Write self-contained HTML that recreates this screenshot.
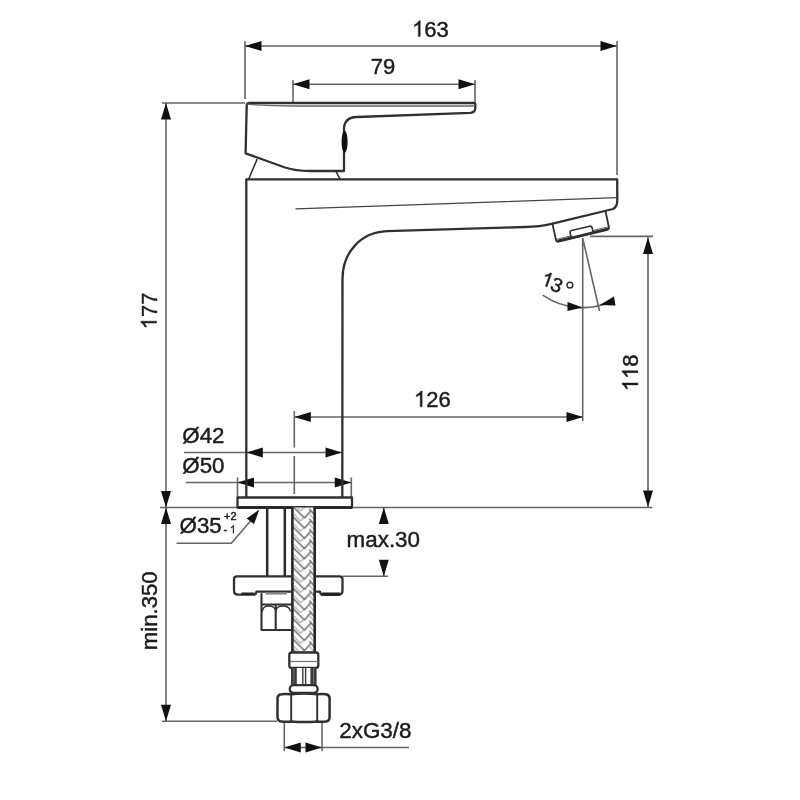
<!DOCTYPE html>
<html><head><meta charset="utf-8">
<style>
html,body{margin:0;padding:0;background:#fff;}
body{width:800px;height:800px;overflow:hidden;}
svg{display:block;filter:blur(0.55px);}
text{font-family:"Liberation Sans",sans-serif;fill:#1c1c1c;stroke:#1c1c1c;stroke-width:0.45px;}
.g1{fill:#1c1c1c;stroke:#1c1c1c;stroke-width:40;}
.o{fill:none;stroke:#303030;stroke-width:2.3;stroke-linejoin:round;stroke-linecap:round;}
.t{fill:none;stroke:#444;stroke-width:1.3;stroke-linecap:round;}
.d{fill:none;stroke:#666;stroke-width:1.6;}
.a{fill:#111;stroke:none;}
</style></head><body>
<svg width="800" height="800" viewBox="0 0 800 800">
<rect width="800" height="800" fill="#fff"/>
<defs>
<pattern id="br" x="292.5" y="509" width="22" height="10.2" patternUnits="userSpaceOnUse">
<path d="M1.5 -15.40L8 -8.40 M8 -8.40L12 -12.40 M17.3 -15.10L22 -9.60 M1.5 -5.20L8 1.80 M8 1.80L12 -2.20 M17.3 -4.90L22 0.60 M1.5 5.00L8 12.00 M8 12.00L12 8.00 M17.3 5.30L22 10.80 M1.5 15.20L8 22.20 M8 22.20L12 18.20 M17.3 15.50L22 21.00" stroke="#a4a4a4" stroke-width="1.1" fill="none" stroke-linecap="round"/>
<path d="M0.5 -22.80L12 -11.40 M12 -11.40L17.8 -18.00 M17.3 -20.20L22 -14.70 M0.5 -12.60L12 -1.20 M12 -1.20L17.8 -7.80 M17.3 -10.00L22 -4.50 M0.5 -2.40L12 9.00 M12 9.00L17.8 2.40 M17.3 0.20L22 5.70 M0.5 7.80L12 19.20 M12 19.20L17.8 12.60 M17.3 10.40L22 15.90" stroke="#6a6a6a" stroke-width="1.5" fill="none" stroke-linecap="round"/>
</pattern>
</defs>

<!-- DIMENSIONS -->
<g class="d">
<!-- 163 -->
<path d="M245 41V99 M617 41V175 M245 46H617"/>
<!-- 79 -->
<path d="M293 80V104 M475 80V104 M293 84.3H475"/>
<!-- 177 / min.350 -->
<path d="M162 103H245 M166 103V721 M160 507.5H652.5 M162 721.3H277"/>
<!-- 126 -->
<path d="M294.3 417H583"/>
<path d="M294.3 411V447.5 M294.3 456V494"/>
<!-- 118 -->
<path d="M590 236.4H653 M648 237V507"/>
<!-- 13deg -->
<path d="M582.7 238V421 M582.7 238L599.5 311"/>
<path d="M542.7 295.2A70 70 0 0 0 614 300.2"/>
<!-- d42 d50 -->
<path d="M184 452.5H342 M186 482.5H351 M237.5 477.5V497 M351.3 477.5V497"/>
<!-- d35 leader -->
<path d="M176.5 543.3H231.3L251 520.5"/>
<!-- max30 -->
<path d="M342.5 576.3H388 M383.8 508V524 M383.8 560V576"/>
<!-- 2xG3/8 -->
<path d="M284.3 721V751 M322 721V751 M284.3 747.5H409"/>
</g>
<g class="a">
<path d="M245 46l16.5-5v10z M617 46l-16.5-5v10z"/>
<path d="M293 84.3l16.5-5v10z M475 84.3l-16.5-5v10z"/>
<path d="M166 103l-5 16.5h10z M166 507.5l-5-16.5h10z M166 507.5l-5 16.5h10z M166 721.3l-5-16.5h10z"/>
<path d="M294.3 417l16.5-5v10z M583 417l-16.5-5v10z"/>
<path d="M648 237.5l-5 16.5h10z M648 507l-5-16.5h10z"/>
<path d="M246.3 452.5l16.5-5v10z M342 452.5l-16.5-5v10z"/>
<path d="M237.5 482.5l16.5-5v10z M351.3 482.5l-16.5-5v10z"/>
<path d="M259.4 509.4L246.7 518.6L254 524z"/>
<path d="M383.8 507.5l-5 16.5h10z M383.8 576.3l-5-16.5h10z"/>
<path d="M284.3 747.5l16.5-5v10z M322 747.5l-16.5-5v10z"/>
<path d="M582.7 307.5L567.5 302V311z M599.7 305L614 296.5L615.5 305.5z"/>
</g>

<!-- FAUCET -->
<!-- handle -->
<path class="o" d="M246.7 106Q246.7 103 249.7 103L474 103Q475.3 103 475.3 104.5L475.3 108Q475.3 112.5 470.5 112.8L357 117Q344 117.5 344 129L344 171L310 171Q296 171 285 167.5L245.6 153.3Z"/>
<path class="t" d="M247.5 104.2Q270 106 293 106L474.5 106" style="stroke:#666"/>
<ellipse cx="344.6" cy="141.8" rx="3" ry="11" fill="#111"/>
<path class="o" d="M257 159.5L248.7 179 M336 171.3L340 179" style="stroke-width:1.6"/>
<!-- body -->
<path class="o" d="M246.3 497L246.3 179.3L617.2 179.3L617.3 200Q617.3 207 613 209L551.5 223.8Q540 226.5 525 227L387 231.2C361 232.2 342.5 252 342.5 279L342.3 497"/>
<path class="t" d="M296 208.8L617 197.7"/>
<!-- aerator -->
<path class="o" d="M552.5 224L556 240Q556.5 242.2 558.7 241.6L607.3 229.8Q609.3 229.2 608.9 227.2L605.7 212" style="stroke-width:1.8"/>
<path d="M557.5 241L608.3 228.7" stroke="#2e2e2e" stroke-width="2.6" fill="none"/>
<path d="M557 239.2L608 226.9" stroke="#666" stroke-width="1" fill="none"/>
<rect class="o" x="570.1" y="228.3" width="22.6" height="6.6" rx="2" transform="rotate(-13.5 581.4 231.6)" style="fill:#fff;stroke-width:1.6"/>

<!-- base plate -->
<rect class="o" x="237.5" y="497.5" width="114.5" height="10" style="fill:#fff"/>
<path d="M238 507.5H352" stroke="#222" stroke-width="2.6"/>
<!-- rod -->
<path class="o" d="M267.2 508V576 M284.8 508V576" style="stroke-width:2.5;stroke:#2a2a2a"/>
<!-- hose -->
<rect x="292.5" y="507.5" width="22" height="145" fill="#fff"/>
<rect x="292.5" y="507.5" width="22" height="145" fill="url(#br)"/>
<path class="o" d="M292.4 508V652.5 M314.7 508V652.5" style="stroke-width:2.6;stroke:#262626"/>
<!-- clamp plate -->
<path class="o" d="M292 576.3H237Q234 576.3 234 579V590.5Q234 594.6 238 594.6H254Q256 594.6 256.5 591.6H292 M315 576.3H339.5Q342.5 576.3 342.5 579V590.5Q342.5 594.8 338.5 594.8H322.5Q320.5 594.8 320 591.7H315"/>
<path d="M241.5 593.7H254.5 M322 593.9H340" stroke="#222" stroke-width="2.6" fill="none"/>
<path d="M265.5 593.5H287" stroke="#8a8a8a" stroke-width="2.2"/>
<!-- washer + nut -->
<path class="o" d="M261.5 594V630H291 M261.5 604.5H291 M275.7 606V630" style="stroke-width:2.1"/>
<path class="o" d="M262.5 611Q263 606 268.5 606Q275 606 275.7 611 M275.7 611Q276.5 606 283 606Q289 606 290.5 611" style="stroke-width:1.3"/>
<!-- ferrule -->
<rect class="o" x="289.3" y="652.5" width="29" height="15.5" rx="2.5" style="fill:#fff"/>
<path d="M290 661.5H318" stroke="#777" stroke-width="1.3"/>
<!-- knurl -->
<rect x="291" y="668" width="25.6" height="17" fill="#fff"/>
<rect x="291" y="668" width="5.8" height="17" fill="#3a3a3a"/>
<rect x="310.4" y="668" width="6.2" height="17" fill="#3a3a3a"/>
<path d="M302.8 668V685 M305.6 668V685" stroke="#3a3a3a" stroke-width="1.4"/>
<path d="M293.9 668V685 M313.5 668V685" stroke="#777" stroke-width="0.9"/>
<!-- ring -->
<rect class="o" x="289.8" y="685.2" width="27.8" height="7.8" rx="3.6" style="fill:#fff"/>
<!-- big nut -->
<path class="o" d="M281.5 694.3Q286 693.6 291.2 694.3Q304 692.9 317.2 694.3Q322 693.6 326 694.3Q329.6 694.8 329.6 698.5V717Q329.6 721 326 721.5Q322 722 317.2 721.5Q304 722.6 291.2 721.5Q286 722 281.5 721.5Q277.5 721 277.5 717V698.5Q277.5 694.8 281.5 694.3Z" style="fill:#fff;stroke-width:2.5"/>
<path class="o" d="M291.2 694.5V721.3 M317.2 694.5V721.3" style="stroke-width:1.9"/>

<!-- TEXT -->
<g class="tx">
<g transform="translate(430.4 36.6)" font-size="22"><path class="g1" d="M763 0H583V1147Q518 1085 412.5 1023Q307 961 223 930V1104Q374 1175 487 1276Q600 1377 647 1472H763Z" transform="translate(-18.35 0) scale(0.01074 -0.01074)"/><text x="-6.12" y="0">63</text></g>
<g transform="translate(383 74.3)" font-size="22"><text x="-12.23" y="0">79</text></g>
<g transform="translate(432.3 406.8)" font-size="22"><path class="g1" d="M763 0H583V1147Q518 1085 412.5 1023Q307 961 223 930V1104Q374 1175 487 1276Q600 1377 647 1472H763Z" transform="translate(-18.35 0) scale(0.01074 -0.01074)"/><text x="-6.12" y="0">26</text></g>
<g transform="translate(182.3 442.6)" font-size="22.3"><text x="0.00" y="0">Ø42</text></g>
<g transform="translate(182.3 472.6)" font-size="22.3"><text x="0.00" y="0">Ø50</text></g>
<g transform="translate(179.6 533.4)" font-size="22.3"><text x="0.00" y="0">Ø35</text></g>
<g transform="translate(346.6 547.2)" font-size="22.4"><text x="0.00" y="0">max.30</text></g>
<g transform="translate(339.3 738.2)" font-size="22.4"><text x="0.00" y="0">2xG3/8</text></g>
<g transform="translate(156.6 311) rotate(-90)" font-size="22"><path class="g1" d="M763 0H583V1147Q518 1085 412.5 1023Q307 961 223 930V1104Q374 1175 487 1276Q600 1377 647 1472H763Z" transform="translate(-18.35 0) scale(0.01074 -0.01074)"/><text x="-6.12" y="0">77</text></g>
<g transform="translate(156.9 610.8) rotate(-90)" font-size="22.2"><text x="-39.48" y="0">min.350</text></g>
<g transform="translate(637.9 372.8) rotate(-90)" font-size="22"><path class="g1" d="M763 0H583V1147Q518 1085 412.5 1023Q307 961 223 930V1104Q374 1175 487 1276Q600 1377 647 1472H763Z" transform="translate(-18.35 0) scale(0.01074 -0.01074)"/><path class="g1" d="M763 0H583V1147Q518 1085 412.5 1023Q307 961 223 930V1104Q374 1175 487 1276Q600 1377 647 1472H763Z" transform="translate(-6.12 0) scale(0.01074 -0.01074)"/><text x="6.12" y="0">8</text></g>
<g transform="translate(224 520)" font-size="11"><text x="0.00" y="0">+2</text></g>
<g font-size="11"><text x="223.5" y="533.2">-</text><path class="g1" d="M763 0H583V1147Q518 1085 412.5 1023Q307 961 223 930V1104Q374 1175 487 1276Q600 1377 647 1472H763Z" transform="translate(229.8 533.2) scale(0.00537 -0.00537)"/></g>
<g transform="translate(540 284.4) rotate(19)" font-size="20"><path class="g1" d="M763 0H583V1147Q518 1085 412.5 1023Q307 961 223 930V1104Q374 1175 487 1276Q600 1377 647 1472H763Z" transform="translate(0.00 0) scale(0.00977 -0.00977)"/></g>
<g transform="translate(548.9 289.2) rotate(22)" font-size="20"><text x="0.00" y="0">3</text></g>
<circle cx="569.9" cy="285.1" r="2.9" fill="none" stroke="#2a2a2a" stroke-width="1.45"/>
</g>
</svg>
</body></html>
